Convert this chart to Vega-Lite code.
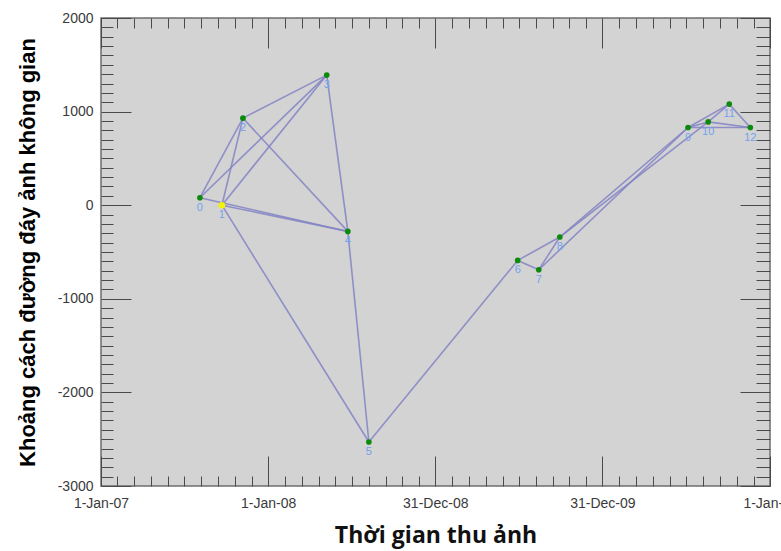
{
  "$schema": "https://vega.github.io/schema/vega-lite/v6.json",
  "width": 669,
  "height": 468,
  "autosize": "none",
  "padding": {"left": 101, "top": 18, "right": 11, "bottom": 65},
  "background": "white",
  "config": {
    "view": {"fill": "#d3d3d3", "stroke": "#6e6e6e", "strokeWidth": 1.5},
    "axis": {"grid": false, "domain": false, "tickColor": "#4a4a4a", "tickWidth": 1, "labelFont": "Liberation Sans", "labelFontSize": 14, "labelColor": "#3a3a3a"}
  },
  "datasets": {
    "points": [
      {"id": 0, "date": "2007-08-05", "bperp": 80},
      {"id": 1, "date": "2007-09-22", "bperp": 0},
      {"id": 2, "date": "2007-11-07", "bperp": 930},
      {"id": 3, "date": "2008-05-08", "bperp": 1390},
      {"id": 4, "date": "2008-06-23", "bperp": -280},
      {"id": 5, "date": "2008-08-08", "bperp": -2530},
      {"id": 6, "date": "2009-06-29", "bperp": -590},
      {"id": 7, "date": "2009-08-14", "bperp": -690},
      {"id": 8, "date": "2009-09-29", "bperp": -340},
      {"id": 9, "date": "2010-07-06", "bperp": 830},
      {"id": 10, "date": "2010-08-19", "bperp": 890},
      {"id": 11, "date": "2010-10-04", "bperp": 1080},
      {"id": 12, "date": "2010-11-19", "bperp": 830}
    ],
    "edges": [
      {"pair": "0-2", "t1": "2007-08-05", "b1": 80, "t2": "2007-11-07", "b2": 930},
      {"pair": "0-3", "t1": "2007-08-05", "b1": 80, "t2": "2008-05-08", "b2": 1390},
      {"pair": "0-4", "t1": "2007-08-05", "b1": 80, "t2": "2008-06-23", "b2": -280},
      {"pair": "1-2", "t1": "2007-09-22", "b1": 0, "t2": "2007-11-07", "b2": 930},
      {"pair": "1-3", "t1": "2007-09-22", "b1": 0, "t2": "2008-05-08", "b2": 1390},
      {"pair": "1-4", "t1": "2007-09-22", "b1": 0, "t2": "2008-06-23", "b2": -280},
      {"pair": "1-5", "t1": "2007-09-22", "b1": 0, "t2": "2008-08-08", "b2": -2530},
      {"pair": "2-3", "t1": "2007-11-07", "b1": 930, "t2": "2008-05-08", "b2": 1390},
      {"pair": "2-4", "t1": "2007-11-07", "b1": 930, "t2": "2008-06-23", "b2": -280},
      {"pair": "3-4", "t1": "2008-05-08", "b1": 1390, "t2": "2008-06-23", "b2": -280},
      {"pair": "4-5", "t1": "2008-06-23", "b1": -280, "t2": "2008-08-08", "b2": -2530},
      {"pair": "5-6", "t1": "2008-08-08", "b1": -2530, "t2": "2009-06-29", "b2": -590},
      {"pair": "6-7", "t1": "2009-06-29", "b1": -590, "t2": "2009-08-14", "b2": -690},
      {"pair": "6-8", "t1": "2009-06-29", "b1": -590, "t2": "2009-09-29", "b2": -340},
      {"pair": "7-8", "t1": "2009-08-14", "b1": -690, "t2": "2009-09-29", "b2": -340},
      {"pair": "7-9", "t1": "2009-08-14", "b1": -690, "t2": "2010-07-06", "b2": 830},
      {"pair": "8-9", "t1": "2009-09-29", "b1": -340, "t2": "2010-07-06", "b2": 830},
      {"pair": "8-10", "t1": "2009-09-29", "b1": -340, "t2": "2010-08-19", "b2": 890},
      {"pair": "9-10", "t1": "2010-07-06", "b1": 830, "t2": "2010-08-19", "b2": 890},
      {"pair": "9-11", "t1": "2010-07-06", "b1": 830, "t2": "2010-10-04", "b2": 1080},
      {"pair": "9-12", "t1": "2010-07-06", "b1": 830, "t2": "2010-11-19", "b2": 830},
      {"pair": "10-11", "t1": "2010-08-19", "b1": 890, "t2": "2010-10-04", "b2": 1080},
      {"pair": "10-12", "t1": "2010-08-19", "b1": 890, "t2": "2010-11-19", "b2": 830},
      {"pair": "11-12", "t1": "2010-10-04", "b1": 1080, "t2": "2010-11-19", "b2": 830}
    ]
  },
  "layer": [
    {
      "data": {"name": "edges"},
      "mark": {"type": "rule", "color": "#8282c6", "strokeWidth": 1.6, "opacity": 0.85},
      "encoding": {
        "x": {
          "field": "t1", "type": "temporal",
          "scale": {"domain": [{"year": 2007, "month": 1, "date": 1}, {"year": 2011, "month": 1, "date": 1}], "nice": false},
          "axis": {
            "orient": "bottom",
            "values": [{"year": 2007, "month": 1, "date": 1}, {"year": 2008, "month": 1, "date": 1}, {"year": 2008, "month": 12, "date": 31}, {"year": 2009, "month": 12, "date": 31}, {"year": 2011, "month": 1, "date": 1}],
            "format": "%-d-%b-%y",
            "tickSize": -30,
            "labelPadding": 40,
            "labelFlush": false,
            "labelOverlap": false,
            "labelBound": false,
            "title": "Thời gian thu ảnh",
            "titleFont": "Open Sans",
            "titleFontSize": 23,
            "titleFontWeight": "bold",
            "titleColor": "#111111",
            "titlePadding": 14
          }
        },
        "x2": {"field": "t2"},
        "y": {
          "field": "b1", "type": "quantitative",
          "scale": {"domain": [-3000, 2000], "nice": false, "zero": false},
          "axis": {
            "orient": "left",
            "values": [-3000, -2000, -1000, 0, 1000, 2000],
            "labelExpr": "'' + datum.value",
            "tickSize": -30,
            "labelPadding": 38,
            "labelOverlap": false,
            "labelBound": false,
            "title": "Khoảng cách đường đáy ảnh không gian",
            "titleFont": "Liberation Sans",
            "titleFontSize": 22,
            "titleFontWeight": "bold",
            "titleColor": "#000000",
            "titlePadding": 18
          }
        },
        "y2": {"field": "b2"}
      }
    },
    {
      "data": {"name": "points"},
      "transform": [{"filter": "datum.id != 1"}],
      "mark": {"type": "circle", "size": 32, "color": "#0b8a0b", "opacity": 1},
      "encoding": {
        "x": {
          "field": "date", "type": "temporal",
          "scale": {"domain": [{"year": 2007, "month": 1, "date": 1}, {"year": 2011, "month": 1, "date": 1}], "nice": false},
          "axis": {
            "orient": "top",
            "values": [{"year": 2007, "month": 1, "date": 1}, {"year": 2008, "month": 1, "date": 1}, {"year": 2008, "month": 12, "date": 31}, {"year": 2009, "month": 12, "date": 31}, {"year": 2011, "month": 1, "date": 1}],
            "tickSize": -30, "labels": false, "title": null
          }
        },
        "y": {
          "field": "bperp", "type": "quantitative",
          "scale": {"domain": [-3000, 2000], "nice": false, "zero": false},
          "axis": {
            "orient": "right",
            "values": [-3000, -2000, -1000, 0, 1000, 2000],
            "tickSize": -30, "labels": false, "title": null
          }
        }
      }
    },
    {
      "data": {"name": "points"},
      "mark": {"type": "text", "dy": 10, "fontSize": 11, "font": "Liberation Sans", "color": "#74a2ee"},
      "encoding": {
        "x": {
          "field": "date", "type": "temporal",
          "scale": {"domain": [{"year": 2007, "month": 1, "date": 1}, {"year": 2011, "month": 1, "date": 1}], "nice": false},
          "axis": {
            "orient": "bottom",
            "values": [
              {"year": 2007, "month": 2, "date": 6}, {"year": 2007, "month": 3, "date": 15}, {"year": 2007, "month": 4, "date": 20}, {"year": 2007, "month": 5, "date": 27}, {"year": 2007, "month": 7, "date": 2}, {"year": 2007, "month": 8, "date": 8}, {"year": 2007, "month": 9, "date": 14}, {"year": 2007, "month": 10, "date": 20}, {"year": 2007, "month": 11, "date": 26},
              {"year": 2008, "month": 2, "date": 6}, {"year": 2008, "month": 3, "date": 15}, {"year": 2008, "month": 4, "date": 20}, {"year": 2008, "month": 5, "date": 27}, {"year": 2008, "month": 7, "date": 2}, {"year": 2008, "month": 8, "date": 8}, {"year": 2008, "month": 9, "date": 14}, {"year": 2008, "month": 10, "date": 20}, {"year": 2008, "month": 11, "date": 26},
              {"year": 2009, "month": 2, "date": 6}, {"year": 2009, "month": 3, "date": 15}, {"year": 2009, "month": 4, "date": 20}, {"year": 2009, "month": 5, "date": 27}, {"year": 2009, "month": 7, "date": 2}, {"year": 2009, "month": 8, "date": 8}, {"year": 2009, "month": 9, "date": 14}, {"year": 2009, "month": 10, "date": 20}, {"year": 2009, "month": 11, "date": 26},
              {"year": 2010, "month": 2, "date": 6}, {"year": 2010, "month": 3, "date": 15}, {"year": 2010, "month": 4, "date": 20}, {"year": 2010, "month": 5, "date": 27}, {"year": 2010, "month": 7, "date": 2}, {"year": 2010, "month": 8, "date": 8}, {"year": 2010, "month": 9, "date": 14}, {"year": 2010, "month": 10, "date": 20}, {"year": 2010, "month": 11, "date": 26}
            ],
            "tickSize": -10, "labels": false, "title": null
          }
        },
        "y": {
          "field": "bperp", "type": "quantitative",
          "scale": {"domain": [-3000, 2000], "nice": false, "zero": false},
          "axis": {
            "orient": "left",
            "values": [-2900, -2800, -2700, -2600, -2500, -2400, -2300, -2200, -2100, -1900, -1800, -1700, -1600, -1500, -1400, -1300, -1200, -1100, -900, -800, -700, -600, -500, -400, -300, -200, -100, 100, 200, 300, 400, 500, 600, 700, 800, 900, 1100, 1200, 1300, 1400, 1500, 1600, 1700, 1800, 1900],
            "tickSize": -12, "labels": false, "title": null
          }
        },
        "text": {"field": "id", "type": "nominal"}
      }
    },
    {
      "data": {"name": "points"},
      "transform": [{"filter": "datum.id == 1"}],
      "mark": {"type": "circle", "size": 42, "color": "#f4f400", "opacity": 1},
      "encoding": {
        "x": {
          "field": "date", "type": "temporal",
          "scale": {"domain": [{"year": 2007, "month": 1, "date": 1}, {"year": 2011, "month": 1, "date": 1}], "nice": false},
          "axis": {
            "orient": "top",
            "values": [
              {"year": 2007, "month": 2, "date": 6}, {"year": 2007, "month": 3, "date": 15}, {"year": 2007, "month": 4, "date": 20}, {"year": 2007, "month": 5, "date": 27}, {"year": 2007, "month": 7, "date": 2}, {"year": 2007, "month": 8, "date": 8}, {"year": 2007, "month": 9, "date": 14}, {"year": 2007, "month": 10, "date": 20}, {"year": 2007, "month": 11, "date": 26},
              {"year": 2008, "month": 2, "date": 6}, {"year": 2008, "month": 3, "date": 15}, {"year": 2008, "month": 4, "date": 20}, {"year": 2008, "month": 5, "date": 27}, {"year": 2008, "month": 7, "date": 2}, {"year": 2008, "month": 8, "date": 8}, {"year": 2008, "month": 9, "date": 14}, {"year": 2008, "month": 10, "date": 20}, {"year": 2008, "month": 11, "date": 26},
              {"year": 2009, "month": 2, "date": 6}, {"year": 2009, "month": 3, "date": 15}, {"year": 2009, "month": 4, "date": 20}, {"year": 2009, "month": 5, "date": 27}, {"year": 2009, "month": 7, "date": 2}, {"year": 2009, "month": 8, "date": 8}, {"year": 2009, "month": 9, "date": 14}, {"year": 2009, "month": 10, "date": 20}, {"year": 2009, "month": 11, "date": 26},
              {"year": 2010, "month": 2, "date": 6}, {"year": 2010, "month": 3, "date": 15}, {"year": 2010, "month": 4, "date": 20}, {"year": 2010, "month": 5, "date": 27}, {"year": 2010, "month": 7, "date": 2}, {"year": 2010, "month": 8, "date": 8}, {"year": 2010, "month": 9, "date": 14}, {"year": 2010, "month": 10, "date": 20}, {"year": 2010, "month": 11, "date": 26}
            ],
            "tickSize": -10, "labels": false, "title": null
          }
        },
        "y": {
          "field": "bperp", "type": "quantitative",
          "scale": {"domain": [-3000, 2000], "nice": false, "zero": false},
          "axis": {
            "orient": "right",
            "values": [-2900, -2800, -2700, -2600, -2500, -2400, -2300, -2200, -2100, -1900, -1800, -1700, -1600, -1500, -1400, -1300, -1200, -1100, -900, -800, -700, -600, -500, -400, -300, -200, -100, 100, 200, 300, 400, 500, 600, 700, 800, 900, 1100, 1200, 1300, 1400, 1500, 1600, 1700, 1800, 1900],
            "tickSize": -14, "labels": false, "title": null
          }
        }
      }
    }
  ],
  "resolve": {"axis": {"x": "independent", "y": "independent"}}
}
